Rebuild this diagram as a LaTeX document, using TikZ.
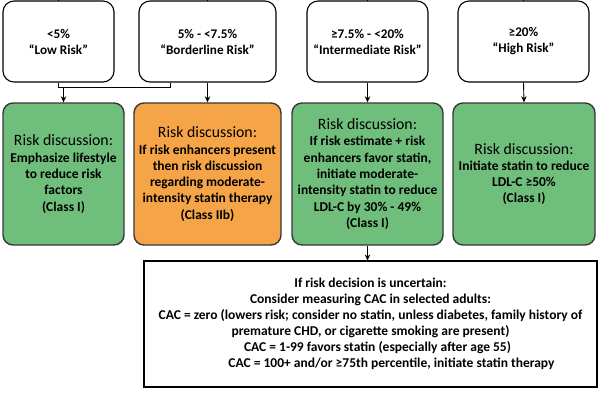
\documentclass[tikz,border=0pt]{standalone}
\usepackage{fontspec}
\setmainfont{Carlito}
\usetikzlibrary{arrows.meta}
\definecolor{boxgreen}{RGB}{112,190,124}
\definecolor{boxorange}{RGB}{246,164,72}
\definecolor{edgegray}{RGB}{55,55,55}
\tikzset{
  riskbox/.style={draw=black, line width=1.1pt, fill=white, rounded corners=11pt, inner sep=0pt, align=center,
    font=\bfseries\fontsize{13.2}{16}\selectfont},
  discbox/.style={draw=edgegray, line width=1.4pt, rounded corners=10pt, inner sep=0pt, align=center,
    font=\bfseries\fontsize{13.5}{16.3}\selectfont},
  cacbox/.style={draw=black, line width=1.1pt, fill=white, inner sep=0pt, align=center,
    font=\bfseries\fontsize{13.5}{16}\selectfont},
  conn/.style={draw=black, line width=0.9pt},
  arr/.style={conn, -{Stealth[length=6pt,width=5.5pt]}},
}
\newcommand{\disctitle}{{\mdseries\fontsize{15.8}{17}\selectfont Risk discussion:}}
\begin{document}
\begin{tikzpicture}[x=1pt,y=-1pt]
\useasboundingbox (0,0) rectangle (604,392);
% top risk boxes
\node[riskbox, minimum width=111pt, minimum height=81pt] (b1) at (58.5,41.5) {<5\%\\“Low Risk”};
\node[riskbox, minimum width=137pt, minimum height=81pt] (b2) at (207.5,41.5) {5\% - <7.5\%\\“Borderline Risk”};
\node[riskbox, minimum width=121pt, minimum height=81pt] (b3) at (367.5,41.5) {≥7.5\% - <20\%\\“Intermediate Risk”};
\node[riskbox, minimum width=131pt, minimum height=81pt] (b4) at (523.5,41.5) {≥20\%\\“High Risk”};
% discussion boxes
\node[discbox, fill=boxgreen, minimum width=121pt, minimum height=142pt] (g1) at (63.5,174) {\disctitle\\Emphasize lifestyle\\to reduce risk\\factors\\(Class I)};
\node[discbox, fill=boxorange, minimum width=147pt, minimum height=142pt] (g2) at (207.5,174) {\disctitle\\If risk enhancers present\\then risk discussion\\regarding moderate-\\intensity statin therapy\\(Class IIb)};
\node[discbox, fill=boxgreen, minimum width=151pt, minimum height=142pt] (g3) at (367.5,174) {\disctitle\\If risk estimate + risk\\enhancers favor statin,\\initiate moderate-\\intensity statin to reduce\\LDL-C by 30\% - 49\%\\(Class I)};
\node[discbox, fill=boxgreen, minimum width=142pt, minimum height=142pt] (g4) at (524,174) {\disctitle\\Initiate statin to reduce\\LDL-C ≥50\%\\(Class I)};
% CAC box
\node[cacbox, minimum width=453pt, minimum height=126pt] (cac) at (370.5,324) {If risk decision is uncertain:\\Consider measuring CAC in selected adults:\\CAC = zero (lowers risk; consider no statin, unless diabetes, family history of\\premature CHD, or cigarette smoking are present)\hspace*{8pt}\\\hspace*{14pt}CAC = 1-99 favors statin (especially after age 55)\\\hspace*{42pt}CAC = 100+ and/or ≥75th percentile, initiate statin therapy};
% connectors from above
\coordinate (t1) at (58.5,0);
\coordinate (t2) at (207.5,0);
\coordinate (t3) at (367.5,0);
\coordinate (t4) at (523.5,0);
\draw[conn] (t1) -- (b1.north);
\draw[conn] (t2) -- (b2.north);
\draw[conn] (t3) -- (b3.north);
\draw[conn] (t4) -- (b4.north);
% join of low and borderline
\coordinate (j1) at (58.5,87);
\coordinate (j2) at (170,87);
\draw[conn] (b1.south) -- (j1) -- (j2) -- (b2.south -| j2);
\draw[arr] (g1.north |- j1) -- (g1.north);
\draw[arr] (b2.south) -- (g2.north);
\draw[arr] (b3.south) -- (g3.north);
\draw[arr] (b4.south) -- (g4.north);
\draw[arr] (g3.south) -- (cac.north -| g3.south);
\end{tikzpicture}
\end{document}
